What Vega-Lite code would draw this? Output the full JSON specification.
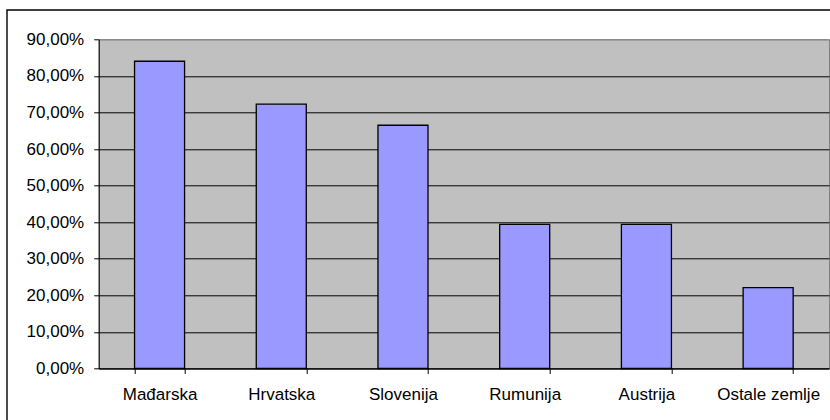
{
  "$schema": "https://vega.github.io/schema/vega-lite/v6.json",
  "autosize": {"type": "none"},
  "width": 730.3,
  "height": 329.2,
  "padding": {"left": 98.7, "top": 39.3, "right": 1.3, "bottom": 51.5},
  "background": "#ffffff",
  "config": {
    "font": "Liberation Sans",
    "view": {"fill": "#c0c0c0", "stroke": "#808080", "strokeWidth": 1},
    "axis": {
      "labelFont": "Liberation Sans",
      "labelFontSize": 17,
      "labelColor": "#000000",
      "domainColor": "#000000",
      "domainWidth": 1,
      "tickColor": "#000000",
      "tickWidth": 1,
      "tickSize": 5,
      "title": null
    }
  },
  "layer": [
    {
      "description": "Chart-area border around the whole figure",
      "data": {"values": [{}]},
      "mark": {"type": "rect", "filled": false, "stroke": "#000000", "strokeWidth": 1.4},
      "encoding": {
        "x": {"datum": 0, "type": "quantitative", "scale": {"domain": [0, 1], "range": [-91.7, 740], "nice": false, "zero": false}, "axis": null},
        "x2": {"datum": 1},
        "y": {"datum": 0, "type": "quantitative", "scale": {"domain": [0, 1], "range": [-29.3, 400], "nice": false, "zero": false}, "axis": null},
        "y2": {"datum": 1}
      }
    },
    {
      "data": {
        "values": [
          {"zemlja": "Mađarska", "udio": 84.0},
          {"zemlja": "Hrvatska", "udio": 72.3},
          {"zemlja": "Slovenija", "udio": 66.5},
          {"zemlja": "Rumunija", "udio": 39.4},
          {"zemlja": "Austrija", "udio": 39.4},
          {"zemlja": "Ostale zemlje", "udio": 22.1}
        ]
      },
      "mark": {"type": "bar", "fill": "#9999ff", "stroke": "#000000", "strokeWidth": 1.3},
      "encoding": {
        "x": {
          "field": "zemlja",
          "type": "nominal",
          "sort": null,
          "scale": {"paddingInner": 0.589, "paddingOuter": 0.2945},
          "axis": {
            "orient": "bottom",
            "labelAngle": 0,
            "tickBand": "extent",
            "labelPadding": 13,
            "labelOverlap": false,
            "labelFlush": false,
            "labelBound": false,
            "grid": false
          }
        },
        "y": {
          "field": "udio",
          "type": "quantitative",
          "scale": {"domain": [0, 90], "nice": false},
          "axis": {
            "orient": "left",
            "values": [0, 10, 20, 30, 40, 50, 60, 70, 80, 90],
            "labelExpr": "replace(format(datum.value, '.2f'), '.', ',') + '%'",
            "labelPadding": 10,
            "grid": true,
            "gridColor": {"condition": {"test": "datum.value === 90", "value": "#808080"}, "value": "#000000"},
            "gridWidth": 1
          }
        }
      }
    }
  ],
  "resolve": {
    "scale": {"x": "independent", "y": "independent"},
    "axis": {"x": "independent", "y": "independent"}
  }
}
